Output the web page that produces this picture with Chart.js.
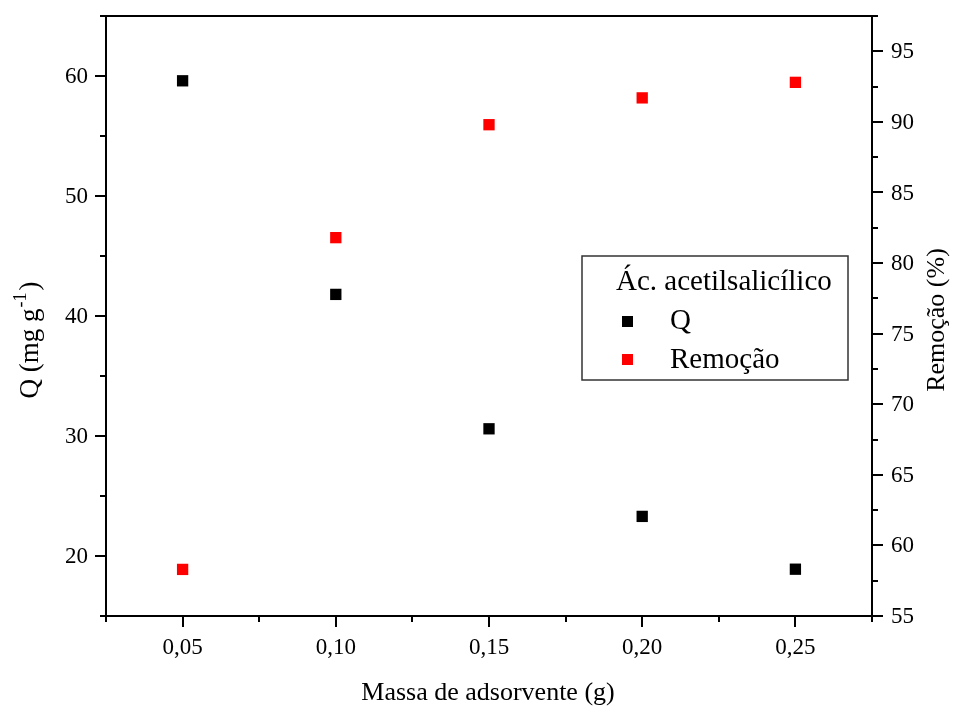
<!DOCTYPE html>
<html>
<head>
<meta charset="utf-8">
<script src="https://cdn.jsdelivr.net/npm/chart.js@4"></script>
<style>
  html, body { margin: 0; padding: 0; background: #ffffff; }
  #wrap { width: 953px; height: 706px; position: relative; }
</style>
</head>
<body>
<div id="wrap"><canvas id="chart" width="953" height="706"></canvas></div>
<script>
const massas = [0.05, 0.1, 0.15, 0.2, 0.25];
const qValues = [59.6, 41.8, 30.6, 23.3, 18.9];
const remocaoValues = [58.3, 81.8, 89.8, 91.7, 92.8];

const xTicks = [0.05, 0.1, 0.15, 0.2, 0.25];
const xMinorTicks = [0.025, 0.075, 0.125, 0.175, 0.225, 0.275];
const leftTicks = [20, 30, 40, 50, 60];
const leftMinorTicks = [15, 25, 35, 45, 55, 65];
const rightTicks = [55, 60, 65, 70, 75, 80, 85, 90, 95];
const rightMinorTicks = [57.5, 62.5, 67.5, 72.5, 77.5, 82.5, 87.5, 92.5, 97.5];

const FONT = "'Liberation Serif', 'Times New Roman', serif";

function fmt(v) {
  return v.toFixed(2).replace(".", ",");
}

const axesPlugin = {
  id: "originAxes",
  afterDraw(chart) {
    const { ctx, chartArea: a } = chart;
    const sx = chart.scales.x;
    const sl = chart.scales.y;
    const sr = chart.scales.y2;

    ctx.save();
    ctx.strokeStyle = "#000";
    ctx.lineWidth = 2;
    ctx.strokeRect(a.left, a.top, a.right - a.left, a.bottom - a.top);

    ctx.beginPath();
    xTicks.forEach((v) => {
      const x = Math.round(sx.getPixelForValue(v));
      ctx.moveTo(x, a.bottom); ctx.lineTo(x, a.bottom + 11);
    });
    xMinorTicks.forEach((v) => {
      const x = Math.round(sx.getPixelForValue(v));
      ctx.moveTo(x, a.bottom); ctx.lineTo(x, a.bottom + 6);
    });
    leftTicks.forEach((v) => {
      const y = Math.round(sl.getPixelForValue(v));
      ctx.moveTo(a.left, y); ctx.lineTo(a.left - 11, y);
    });
    leftMinorTicks.forEach((v) => {
      const y = Math.round(sl.getPixelForValue(v));
      ctx.moveTo(a.left, y); ctx.lineTo(a.left - 6, y);
    });
    rightTicks.forEach((v) => {
      const y = Math.round(sr.getPixelForValue(v));
      ctx.moveTo(a.right, y); ctx.lineTo(a.right + 11, y);
    });
    rightMinorTicks.forEach((v) => {
      const y = Math.round(sr.getPixelForValue(v));
      ctx.moveTo(a.right, y); ctx.lineTo(a.right + 6, y);
    });
    ctx.stroke();

    // tick labels
    ctx.fillStyle = "#000";
    ctx.font = "23px " + FONT;
    ctx.textBaseline = "middle";
    ctx.textAlign = "center";
    xTicks.forEach((v) => {
      ctx.fillText(fmt(v), sx.getPixelForValue(v), a.bottom + 32);
    });
    ctx.textAlign = "right";
    leftTicks.forEach((v) => {
      ctx.fillText(String(v), a.left - 18, sl.getPixelForValue(v) + 1);
    });
    ctx.textAlign = "left";
    rightTicks.forEach((v) => {
      ctx.fillText(String(v), a.right + 19, sr.getPixelForValue(v) + 1);
    });

    // axis titles
    ctx.textBaseline = "alphabetic";
    ctx.font = "26px " + FONT;
    ctx.textAlign = "center";
    ctx.fillText("Massa de adsorvente (g)", 488, 700);

    ctx.save();
    ctx.translate(38, 340);
    ctx.rotate(-Math.PI / 2);
    const p1 = "Q (mg g";
    const p2 = "-1";
    const p3 = ")";
    ctx.font = "27px " + FONT;
    const w1 = ctx.measureText(p1).width;
    const w3 = ctx.measureText(p3).width;
    ctx.font = "18px " + FONT;
    const w2 = ctx.measureText(p2).width;
    const x0 = -(w1 + w2 + w3 + 3) / 2;
    ctx.textAlign = "left";
    ctx.font = "27px " + FONT;
    ctx.fillText(p1, x0, 0);
    ctx.font = "18px " + FONT;
    ctx.fillText(p2, x0 + w1 + 1, -12);
    ctx.font = "27px " + FONT;
    ctx.fillText(p3, x0 + w1 + w2 + 3, 0);
    ctx.restore();

    ctx.save();
    ctx.translate(944, 320);
    ctx.rotate(-Math.PI / 2);
    ctx.textAlign = "center";
    ctx.font = "26px " + FONT;
    ctx.fillText("Remoção (%)", 0, 0);
    ctx.restore();

    // legend
    ctx.lineWidth = 1.5;
    ctx.strokeStyle = "#333";
    ctx.fillStyle = "#fff";
    ctx.fillRect(582, 256, 266, 124);
    ctx.strokeRect(582, 256, 266, 124);
    ctx.fillStyle = "#000";
    ctx.textAlign = "left";
    ctx.font = "29px " + FONT;
    ctx.fillText("Ác. acetilsalicílico", 616, 290);
    ctx.fillText("Q", 670, 329);
    ctx.fillText("Remoção", 670, 368);
    ctx.fillStyle = "#000";
    ctx.fillRect(622, 316, 11, 11);
    ctx.fillStyle = "#ff0000";
    ctx.fillRect(622, 354, 11, 11);
    ctx.restore();
  },
};

const points = (ys) => massas.map((x, i) => ({ x, y: ys[i] }));

new Chart(document.getElementById("chart"), {
  type: "scatter",
  data: {
    datasets: [
      {
        label: "Q",
        data: points(qValues),
        yAxisID: "y",
        pointStyle: "rect",
        pointRadius: 8,
        pointBorderWidth: 0,
        backgroundColor: "#000000",
        borderColor: "#000000",
      },
      {
        label: "Remoção",
        data: points(remocaoValues),
        yAxisID: "y2",
        pointStyle: "rect",
        pointRadius: 8,
        pointBorderWidth: 0,
        backgroundColor: "#ff0000",
        borderColor: "#ff0000",
      },
    ],
  },
  options: {
    responsive: false,
    animation: false,
    layout: { padding: { top: 16, left: 0, right: 0, bottom: 0 } },
    plugins: { legend: { display: false }, tooltip: { enabled: false } },
    scales: {
      x: {
        type: "linear",
        min: 0.025,
        max: 0.275,
        grid: { display: false },
        border: { display: false },
        ticks: { display: false },
        afterFit: (s) => { s.height = 90; },
      },
      y: {
        position: "left",
        min: 15,
        max: 65,
        grid: { display: false },
        border: { display: false },
        ticks: { display: false },
        afterFit: (s) => { s.width = 106; },
      },
      y2: {
        position: "right",
        min: 55,
        max: 97.5,
        grid: { display: false },
        border: { display: false },
        ticks: { display: false },
        afterFit: (s) => { s.width = 81; },
      },
    },
  },
  plugins: [axesPlugin],
});
</script>
</body>
</html>
